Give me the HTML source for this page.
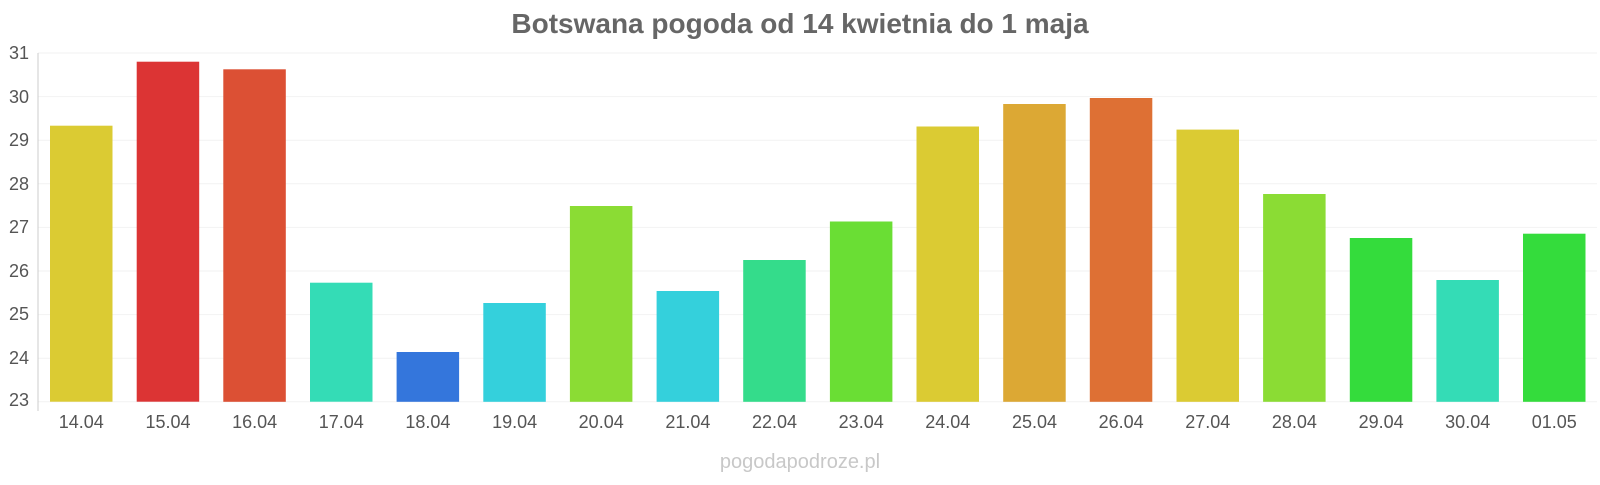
<!DOCTYPE html>
<html><head><meta charset="utf-8"><style>
body{margin:0;background:#fff;}
svg text{font-family:"Liberation Sans",sans-serif;}
</style></head><body>
<svg width="1600" height="480" xmlns="http://www.w3.org/2000/svg">
<text x="800" y="33" text-anchor="middle" font-size="28" font-weight="bold" fill="#666">Botswana pogoda od 14 kwietnia do 1 maja</text>
<g stroke="#f2f2f2" stroke-width="1">
<line x1="38" x2="1597" y1="53" y2="53"/><line x1="38" x2="1597" y1="96.6" y2="96.6"/><line x1="38" x2="1597" y1="140.2" y2="140.2"/><line x1="38" x2="1597" y1="183.8" y2="183.8"/><line x1="38" x2="1597" y1="227.4" y2="227.4"/><line x1="38" x2="1597" y1="271" y2="271"/><line x1="38" x2="1597" y1="314.6" y2="314.6"/><line x1="38" x2="1597" y1="358.2" y2="358.2"/><line x1="38" x2="1597" y1="401.8" y2="401.8"/>
</g>
<line x1="38" x2="38" y1="53" y2="411" stroke="#ccc"/>
<g font-size="18" fill="#555" text-anchor="end">
<text x="29" y="59">31</text><text x="29" y="103">30</text><text x="29" y="146">29</text><text x="29" y="190">28</text><text x="29" y="233">27</text><text x="29" y="277">26</text><text x="29" y="320">25</text><text x="29" y="364">24</text><text x="29" y="406">23</text>
</g>
<g>
<rect x="50" y="125.7" width="62.5" height="276" fill="#dbcb33"/>
<rect x="136.7" y="61.7" width="62.5" height="340" fill="#dc3434"/>
<rect x="223.3" y="69.3" width="62.5" height="332.5" fill="#dc5034"/>
<rect x="310" y="282.7" width="62.5" height="119" fill="#34dcb6"/>
<rect x="396.6" y="352" width="62.5" height="49.8" fill="#3476dc"/>
<rect x="483.3" y="303" width="62.5" height="98.8" fill="#34d0dc"/>
<rect x="569.9" y="206" width="62.5" height="195.8" fill="#8bdc34"/>
<rect x="656.6" y="291" width="62.5" height="110.8" fill="#34d0dc"/>
<rect x="743.2" y="260" width="62.5" height="141.8" fill="#34dc8b"/>
<rect x="829.9" y="221.5" width="62.5" height="180.3" fill="#6ade34"/>
<rect x="916.5" y="126.5" width="62.5" height="275.3" fill="#dbcb33"/>
<rect x="1003.2" y="104" width="62.5" height="297.8" fill="#dca834"/>
<rect x="1089.8" y="98" width="62.5" height="303.8" fill="#de7034"/>
<rect x="1176.5" y="129.6" width="62.5" height="272.2" fill="#dbcb33"/>
<rect x="1263.1" y="194" width="62.5" height="207.8" fill="#8bdc34"/>
<rect x="1349.8" y="238" width="62.5" height="163.8" fill="#34dc3c"/>
<rect x="1436.4" y="280" width="62.5" height="121.8" fill="#34dcb6"/>
<rect x="1523" y="233.7" width="62.5" height="168.1" fill="#34dc3c"/>
</g>
<g font-size="18" fill="#555" text-anchor="middle">
<text x="81.3" y="428">14.04</text><text x="168" y="428">15.04</text><text x="254.6" y="428">16.04</text><text x="341.3" y="428">17.04</text><text x="427.9" y="428">18.04</text><text x="514.6" y="428">19.04</text><text x="601.2" y="428">20.04</text><text x="687.9" y="428">21.04</text><text x="774.5" y="428">22.04</text><text x="861.2" y="428">23.04</text><text x="947.8" y="428">24.04</text><text x="1034.5" y="428">25.04</text><text x="1121.1" y="428">26.04</text><text x="1207.8" y="428">27.04</text><text x="1294.4" y="428">28.04</text><text x="1381.1" y="428">29.04</text><text x="1467.7" y="428">30.04</text><text x="1554.3" y="428">01.05</text>
</g>
<text x="800" y="468" text-anchor="middle" font-size="20" fill="#c8c8c8">pogodapodroze.pl</text>
</svg>
</body></html>
